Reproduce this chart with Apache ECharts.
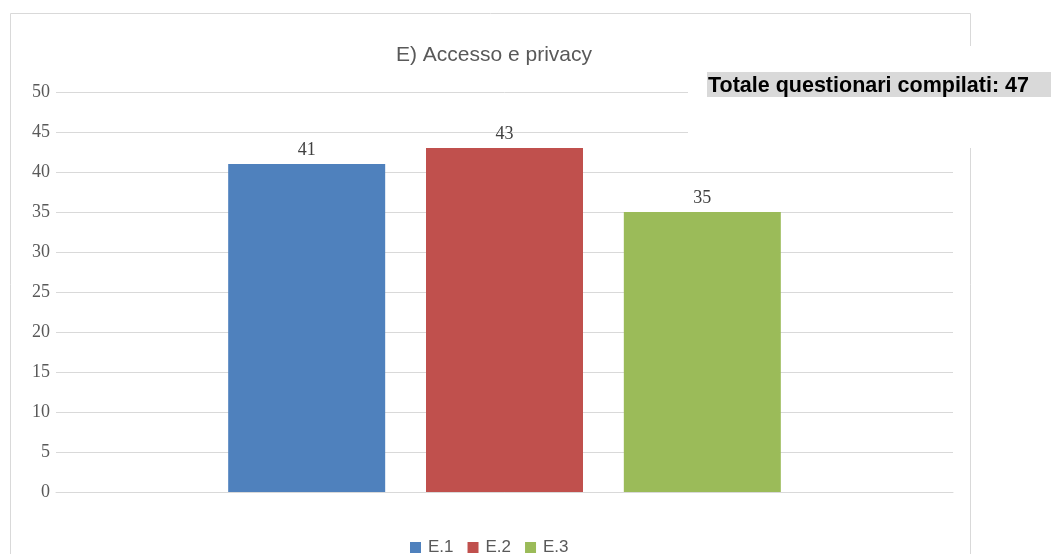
<!DOCTYPE html>
<html><head><meta charset="utf-8">
<script src="https://cdn.jsdelivr.net/npm/echarts@6/dist/echarts.min.js"></script>
<style>html,body{margin:0;padding:0;background:#fff}#c{width:1051px;height:554px}</style>
</head><body><div id="c"></div>
<script>
var categories = [''];
var seriesNames = ['E.1', 'E.2', 'E.3'];
var seriesValues = [41, 43, 35];
var seriesColors = ['#4f81bd', '#c0504d', '#9bbb59'];
var yTicks = [0, 5, 10, 15, 20, 25, 30, 35, 40, 45, 50];
var titleText = 'E) Accesso e privacy';
var noteText = 'Totale questionari compilati: 47';

var chart = echarts.init(document.getElementById('c'));
var series = seriesNames.map(function (n, i) {
  return {
    name: n, type: 'bar', data: [seriesValues[i]], barWidth: 157, barGap: '26%',
    itemStyle: { color: seriesColors[i] },
    label: { show: true, position: 'top', distance: 5, fontFamily: 'Liberation Serif', fontSize: 18, color: '#404040' },
    z: 3
  };
});
chart.setOption({
  animation: false,
  title: { text: titleText, left: 489, textAlign: 'center', top: 40,
    textStyle: { fontFamily: 'Liberation Sans', fontSize: 21, fontWeight: 'normal', color: '#595959' } },
  legend: { data: seriesNames, top: 534, left: 405, itemWidth: 11, itemHeight: 11, itemGap: 14,
    icon: 'rect', textStyle: { fontFamily: 'Liberation Sans', fontSize: 17, color: '#595959', padding: [0, 0, 0, 2] } },
  grid: { left: 56, right: 98, top: 92, height: 400 },
  xAxis: { type: 'category', data: categories, axisTick: { show: false },
    axisLine: { lineStyle: { color: '#d9d9d9', width: 1 } }, axisLabel: { show: false } },
  yAxis: { type: 'value', min: yTicks[0], max: yTicks[yTicks.length - 1], interval: 5,
    axisLine: { show: false }, axisTick: { show: false },
    splitLine: { lineStyle: { color: '#d9d9d9', width: 1 } },
    axisLabel: { fontFamily: 'Liberation Serif', fontSize: 18, color: '#595959', margin: 6 } },
  series: series,
  graphic: [
    { type: 'rect', shape: { x: 10.5, y: 13.5, width: 960, height: 560 }, style: { fill: 'none', stroke: '#d9d9d9', lineWidth: 1 }, z: 0 },
    { type: 'rect', shape: { x: 688, y: 46, width: 363, height: 102 }, style: { fill: '#ffffff' }, z: 10 },
    { type: 'rect', shape: { x: 707, y: 72, width: 344, height: 25 }, style: { fill: '#d9d9d9' }, z: 11 },
    { type: 'text', x: 708, y: 86, style: { text: noteText, fontFamily: 'Liberation Sans', fontSize: 21.5, fontWeight: 'bold', fill: '#000', verticalAlign: 'middle' }, z: 12 }
  ]
});
</script></body></html>
